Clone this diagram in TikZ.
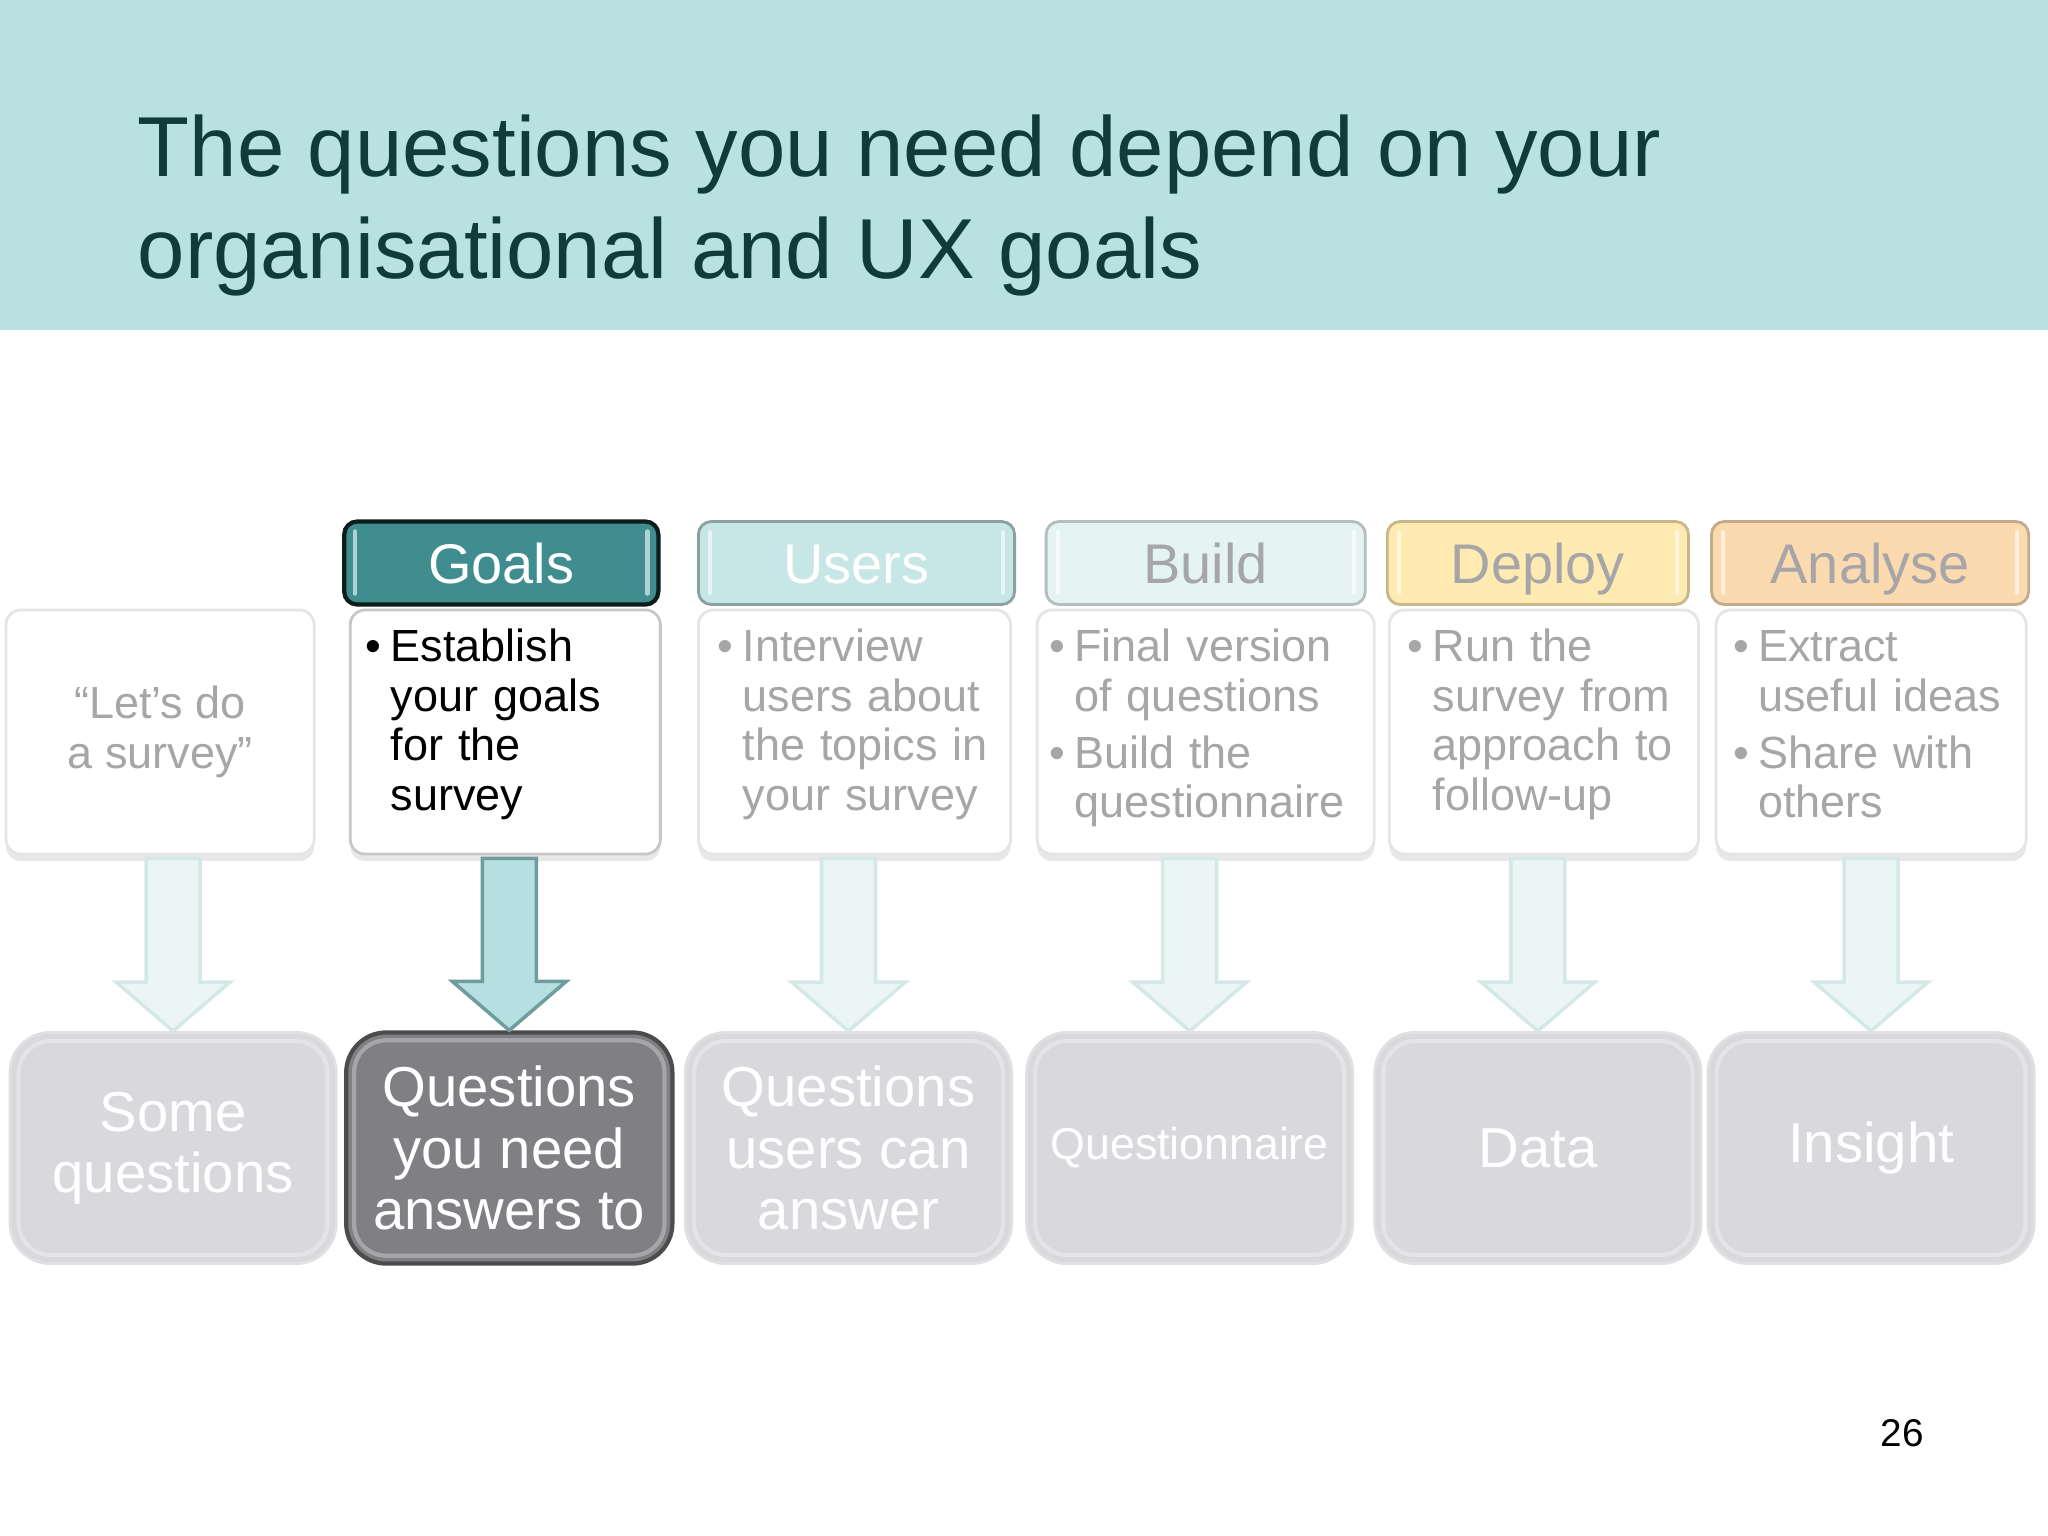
\documentclass[tikz,border=0pt]{standalone}
\usepackage{fontspec}
\setmainfont{Liberation Sans}
\usepackage{tikz}
\usetikzlibrary{calc,shadows}

\definecolor{band}{HTML}{B9E1E2}
\definecolor{titleink}{HTML}{0F3B3B}
\definecolor{fadeink}{HTML}{A6A6A8}
\definecolor{goalstab}{HTML}{3F8D8F}
\definecolor{userstab}{HTML}{C7E6E6}
\definecolor{buildtab}{HTML}{E6F3F3}
\definecolor{deploytab}{HTML}{FFEBB2}
\definecolor{analysetab}{HTML}{FCDAB0}
\definecolor{paleshaft}{HTML}{EAF5F4}
\definecolor{paleedge}{HTML}{D4E9E7}
\definecolor{goalshaft}{HTML}{B5DFE0}
\definecolor{goaledge}{HTML}{6F9D9D}
\definecolor{outgray}{HTML}{D9D8DC}
\definecolor{outdark}{HTML}{807F83}

% bullet with hanging indent
\newcommand{\bitem}[1]{\par\hangindent=0.25cm\hangafter=1\noindent\makebox[0.25cm][l]{\textbullet}#1\par}

\tikzset{
  tab/.style={rounded corners=0.13cm, minimum width=3.14cm, minimum height=0.83cm, inner sep=0pt,
    line width=0.8pt, font=\fontsize{15.9}{18}\selectfont, text height=11.5pt, text depth=0pt},
  card/.style={rounded corners=0.15cm, minimum width=3.1cm, minimum height=2.44cm, fill=white,
    draw=black!10, line width=0.8pt, drop shadow={shadow xshift=0pt, shadow yshift=-2pt, opacity=0.18}},
  points/.style={anchor=north west, inner sep=0pt, text width=2.9cm, align=left, text=fadeink,
    font=\fontsize{12.8}{14.1}\selectfont},
  outbox/.style={rounded corners=0.4cm, minimum width=3.26cm, minimum height=2.31cm, fill=outgray,
    draw=black!12, line width=0.8pt, text=white, align=center, font=\fontsize{16}{17.4}\selectfont},
  arrowpale/.style={fill=paleshaft, draw=paleedge, line width=1pt},
  arrowgoal/.style={fill=goalshaft, draw=goaledge, line width=1pt},
  gloss/.style={white, opacity=0.6, line width=1.2pt, line cap=round},
  sheen/.style={white, opacity=0.3, line width=1.2pt, rounded corners=0.32cm},
}

\begin{document}
\begin{tikzpicture}[x=0.01cm, y=-0.01cm]
  \useasboundingbox (0,0) rectangle (2048,1536);
  \fill[band] (0,0) rectangle (2048,330);
  \node[anchor=north west, inner sep=0pt, align=left, text=titleink,
    font=\fontsize{24.2}{29}\selectfont] (title) at (137,114)
    {The questions you need depend on your\\organisational and UX goals};

  % starting point
  \begin{scope}[xshift=1.60cm]
    \node[card, minimum width=3.08cm] (card1) at (0,732) {};
    \node[align=center, text=fadeink, font=\fontsize{12.8}{14.2}\selectfont] (notes1) at (card1) {“Let’s do\\a survey”};
    \node[outbox] (out1) at (13,1148) {Some\\questions};
  \end{scope}

  % goals
  \begin{scope}[xshift=5.05cm]
    \node[tab, fill=goalstab, draw=black!80!goalstab, line width=1.2pt, text=white] (goals) at (-4,563) {Goals};
    \node[card, draw=black!22] (card2) at (0,732) {};
    \node[points, text=black] (notes2) at ([xshift=0.16cm, yshift=-0.03cm]card2.north west)
      {\bitem{Establish\newline your goals\newline for the\newline survey}};
    \node[outbox, fill=outdark, draw=black!70, line width=1.2pt] (out2) at (4,1148) {Questions\\you need\\answers to};
  \end{scope}

  % users
  \begin{scope}[xshift=8.54cm]
    \node[tab, minimum width=3.16cm, fill=userstab, draw=black!30!userstab, text=white] (users) at (2,563) {Users};
    \node[card, minimum width=3.12cm] (card3) at (0,732) {};
    \node[points] (notes3) at ([xshift=0.2cm, yshift=-0.03cm]card3.north west)
      {\bitem{Interview\newline users about\newline the topics in\newline your survey}};
    \node[outbox] (out3) at (-6,1148) {Questions\\users can\\answer};
  \end{scope}

  % build
  \begin{scope}[xshift=12.05cm]
    \node[tab, minimum width=3.19cm, fill=buildtab, draw=black!22!buildtab, text=fadeink] (build) at (0,563) {Build};
    \node[card, minimum width=3.37cm] (card4) at (0,732) {};
    \node[points, text width=3.2cm] (notes4) at ([xshift=0.13cm, yshift=-0.03cm]card4.north west)
      {\bitem{Final version\newline of questions}\vspace{2pt}\bitem{Build the\newline questionnaire}};
    \node[outbox, font=\fontsize{12.7}{14}\selectfont] (out4) at (-16,1148) {Questionnaire};
  \end{scope}

  % deploy
  \begin{scope}[xshift=15.43cm]
    \node[tab, minimum width=3.01cm, fill=deploytab, draw=black!22!deploytab, text=fadeink] (deploy) at (-6,563) {Deploy};
    \node[card, minimum width=3.09cm] (card5) at (0,732) {};
    \node[points] (notes5) at ([xshift=0.19cm, yshift=-0.03cm]card5.north west)
      {\bitem{Run the\newline survey from\newline approach to\newline follow-up}};
    \node[outbox] (out5) at (-6,1148) {Data};
  \end{scope}

  % analyse
  \begin{scope}[xshift=18.70cm]
    \node[tab, minimum width=3.17cm, fill=analysetab, draw=black!22!analysetab, text=fadeink] (analyse) at (-1,563) {Analyse};
    \node[card] (card6) at (0,732) {};
    \node[points] (notes6) at ([xshift=0.18cm, yshift=-0.03cm]card6.north west)
      {\bitem{Extract\newline useful ideas}\vspace{2pt}\bitem{Share with\newline others}};
    \node[outbox] (out6) at (0,1148) {Insight};
  \end{scope}

  % bevel strips on the tabs and sheen on the outputs
  \foreach \tabname in {goals,users,build,deploy,analyse} {
    \draw[gloss] ([xshift=0.13cm, yshift=-0.12cm]\tabname.north west) -- ([xshift=0.13cm, yshift=0.13cm]\tabname.south west);
    \draw[gloss] ([xshift=-0.13cm, yshift=-0.12cm]\tabname.north east) -- ([xshift=-0.13cm, yshift=0.13cm]\tabname.south east);
  }
  \foreach \n in {1,...,6}
    \draw[sheen] ([xshift=0.1cm, yshift=-0.1cm]out\n.north west) rectangle ([xshift=-0.1cm, yshift=0.1cm]out\n.south east);

  % block arrows from each card to its output
  \foreach \src/\dst/\kind in {card1/out1/arrowpale, card2/out2/arrowgoal, card3/out3/arrowpale,
      card4/out4/arrowpale, card5/out5/arrowpale, card6/out6/arrowpale} {
    \coordinate (tip) at (\dst.north);
    \draw[\kind] ($(tip |- \src.south)+(-27,3)$) -- ($(tip)+(-27,-49)$) -- ($(tip)+(-57,-49)$) -- (tip)
      -- ($(tip)+(57,-49)$) -- ($(tip)+(27,-49)$) -- ($(tip |- \src.south)+(27,3)$) -- cycle;
  }

  \node[font=\fontsize{11}{13}\selectfont] (page) at (1902,1433) {26};
\end{tikzpicture}
\end{document}
